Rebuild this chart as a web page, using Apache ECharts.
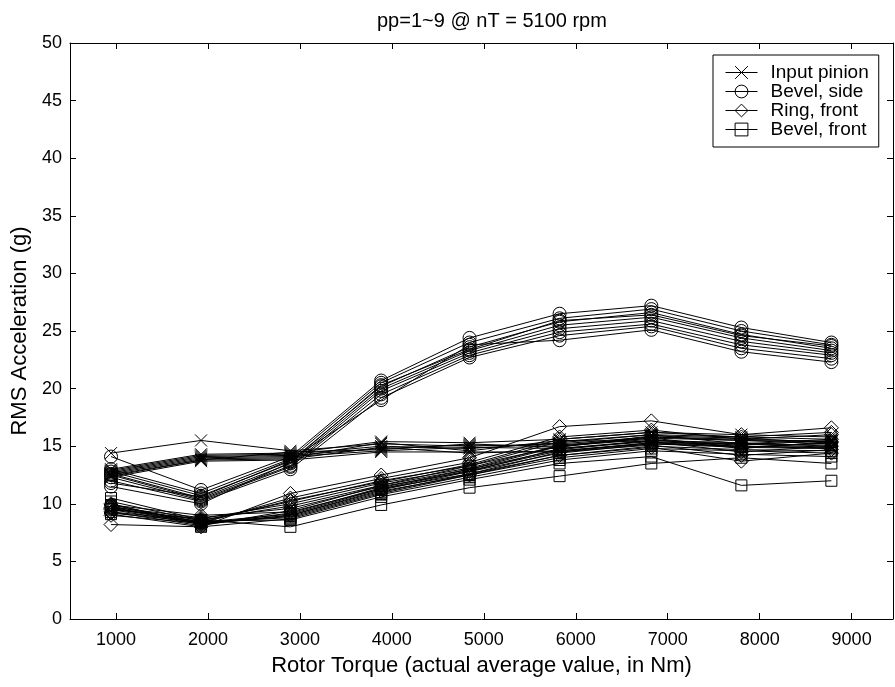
<!DOCTYPE html>
<html><head><meta charset="utf-8">
<script src="https://cdn.jsdelivr.net/npm/echarts@6/dist/echarts.min.js"></script>
<style>html,body{margin:0;padding:0;background:#fff}#c{width:895px;height:687px}</style>
</head><body><div id="c"></div>
<script>
// Rotor torque (x) at which each run was measured
const torque = [946, 1925, 2897, 3884, 4845, 5824, 6822, 7801, 8780];
const xTickValues = [1000, 2000, 3000, 4000, 5000, 6000, 7000, 8000, 9000];

// pp = 1..9, RMS acceleration (g)
const inputPinion = [
  [14.4, 15.5, 14.6, 15.2, 15.0, 15.2, 15.8, 15.6, 15.4],
  [13.0, 14.3, 14.4, 15.4, 15.3, 15.6, 16.2, 16.0, 15.8],
  [12.9, 14.2, 14.3, 15.0, 14.8, 15.3, 16.0, 15.8, 15.6],
  [12.8, 14.1, 14.2, 14.8, 15.1, 15.0, 15.7, 15.5, 15.2],
  [12.7, 14.0, 14.1, 14.6, 14.9, 14.8, 15.5, 15.3, 15.0],
  [12.6, 13.9, 14.0, 15.3, 14.6, 15.5, 15.4, 15.1, 15.5],
  [12.5, 13.8, 13.9, 14.9, 14.4, 14.6, 15.2, 15.0, 14.8],
  [12.4, 13.8, 14.5, 14.7, 15.2, 14.9, 15.9, 15.7, 15.3],
  [12.3, 13.7, 13.8, 14.5, 14.5, 14.5, 15.3, 15.2, 14.9]
];
const bevelSide = [
  [14.1, 11.2, 14.1, 20.7, 24.4, 26.5, 27.2, 25.3, 24.0],
  [13.0, 10.9, 13.9, 20.5, 24.0, 26.1, 26.9, 25.0, 23.8],
  [12.8, 10.7, 13.7, 20.2, 23.6, 25.8, 26.6, 24.7, 23.5],
  [12.6, 10.5, 13.5, 20.0, 23.3, 25.5, 26.2, 24.4, 23.3],
  [12.5, 10.4, 13.3, 19.8, 23.1, 25.2, 25.9, 24.1, 23.1],
  [12.3, 10.3, 13.2, 19.5, 22.9, 24.9, 25.6, 23.8, 22.9],
  [12.0, 10.2, 13.0, 19.2, 22.7, 24.6, 25.4, 23.5, 22.6],
  [11.8, 10.6, 13.8, 19.0, 23.8, 24.2, 25.1, 23.2, 22.3],
  [11.5, 10.0, 13.6, 20.3, 23.4, 25.9, 26.4, 24.6, 23.7]
];
const ringFront = [
  [8.2, 8.0, 10.9, 12.5, 14.0, 16.7, 17.2, 16.0, 16.6],
  [9.0, 8.3, 10.5, 12.2, 13.6, 15.8, 16.4, 15.6, 16.0],
  [9.3, 8.5, 10.2, 12.0, 13.3, 15.4, 16.0, 15.2, 15.6],
  [9.5, 8.7, 10.0, 11.8, 13.1, 15.1, 15.7, 14.9, 15.3],
  [9.7, 8.8, 9.6, 11.5, 12.8, 14.8, 15.4, 14.5, 15.0],
  [9.9, 9.0, 9.3, 11.3, 12.6, 14.5, 15.1, 14.2, 14.7],
  [9.2, 8.4, 10.3, 11.9, 13.4, 15.6, 16.2, 15.8, 16.2],
  [9.6, 8.6, 9.8, 11.6, 13.0, 15.0, 15.6, 14.8, 15.4],
  [10.0, 8.2, 9.0, 11.1, 12.5, 14.2, 14.9, 13.7, 14.4]
];
const bevelFront = [
  [10.5, 8.6, 8.0, 9.9, 11.4, 12.4, 13.5, 14.0, 13.5],
  [10.2, 8.5, 8.6, 10.6, 12.1, 13.5, 14.1, 11.6, 12.0],
  [9.9, 8.4, 8.8, 10.9, 12.5, 14.0, 14.8, 14.6, 14.4],
  [9.7, 8.3, 9.0, 11.2, 12.8, 14.4, 15.2, 14.9, 14.8],
  [9.5, 8.2, 9.2, 11.4, 13.0, 14.7, 15.5, 15.2, 15.1],
  [9.3, 8.1, 9.4, 11.6, 13.3, 15.0, 15.8, 15.5, 15.4],
  [9.6, 8.3, 8.9, 11.0, 12.6, 14.2, 15.0, 14.7, 14.6],
  [9.1, 8.0, 8.7, 10.8, 12.3, 13.8, 14.6, 14.3, 14.1],
  [9.8, 8.4, 9.1, 11.3, 12.9, 14.6, 15.3, 15.0, 14.9]
];

const groupNames = ['Input pinion', 'Bevel, side', 'Ring, front', 'Bevel, front'];
const groupData = [inputPinion, bevelSide, ringFront, bevelFront];
const groupSymbols = ['path://M0,0L10,10M10,0L0,10', 'circle', 'diamond', 'rect'];
const groupSizes = [12, 13, 14, 11];

const FONT = 'Liberation Sans';
const series = [];
groupData.forEach((runs, g) => {
  runs.forEach(vals => {
    series.push({
      type: 'line',
      name: groupNames[g],
      data: torque.map((x, i) => [x, vals[i]]),
      symbol: groupSymbols[g],
      symbolSize: groupSizes[g],
      symbolKeepAspect: true,
      showAllSymbol: true,
      lineStyle: { color: '#000', width: 1 },
      itemStyle: { color: 'rgba(0,0,0,0)', borderColor: '#000', borderWidth: 1 },
      emphasis: { disabled: true },
      animation: false,
      xAxisIndex: 0, yAxisIndex: 0
    });
  });
});

const axisLine = { show: true, onZero: false, lineStyle: { color: '#000', width: 1 } };
const chart = echarts.init(document.getElementById('c'), null, { renderer: 'canvas' });
chart.setOption({
  backgroundColor: '#fff',
  animation: false,
  textStyle: { fontFamily: FONT },
  title: {
    text: 'pp=1~9 @ nT = 5100 rpm',
    left: 372, top: 6,
    textStyle: { fontFamily: FONT, fontSize: 20, fontWeight: 'normal', color: '#000' }
  },
  legend: {
    data: groupNames,
    orient: 'vertical',
    left: 713, top: 55,
    padding: [8, 10, 8, 12],
    itemGap: 0,
    itemWidth: 32, itemHeight: 16,
    borderColor: '#000', borderWidth: 1,
    backgroundColor: '#fff',
    selectedMode: false,
    lineStyle: { width: 1, color: '#000' },
    itemStyle: { color: 'rgba(0,0,0,0)', borderColor: '#000', borderWidth: 1 },
    textStyle: { fontFamily: FONT, fontSize: 19, color: '#000', padding: [0, 0, 0, 8] }
  },
  grid: { left: 70, right: 2, top: 43, bottom: 68, containLabel: false },
  xAxis: [{
    type: 'value', min: 500, max: 9450, position: 'bottom',
    axisLine,
    axisTick: { show: true, inside: true, length: 6, customValues: xTickValues, lineStyle: { color: '#000' } },
    axisLabel: { customValues: xTickValues, formatter: v => String(v), fontFamily: FONT, fontSize: 18, color: '#000', margin: 12 },
    splitLine: { show: false },
    name: 'Rotor Torque (actual average value, in Nm)',
    nameLocation: 'middle', nameGap: 36,
    nameTextStyle: { fontFamily: FONT, fontSize: 22, color: '#000' }
  }, {
    type: 'value', min: 500, max: 9450, position: 'top',
    axisLine,
    axisTick: { show: true, inside: true, length: 6, customValues: xTickValues, lineStyle: { color: '#000' } },
    axisLabel: { show: false },
    splitLine: { show: false }
  }],
  yAxis: [{
    type: 'value', min: 0, max: 50, interval: 5, position: 'left',
    axisLine,
    axisTick: { show: true, inside: true, length: 6, lineStyle: { color: '#000' } },
    axisLabel: { fontFamily: FONT, fontSize: 18, color: '#000', margin: 8 },
    splitLine: { show: false },
    name: 'RMS Acceleration (g)',
    nameLocation: 'middle', nameGap: 38, nameRotate: 90,
    nameTextStyle: { fontFamily: FONT, fontSize: 22, color: '#000' }
  }, {
    type: 'value', min: 0, max: 50, interval: 5, position: 'right',
    axisLine,
    axisTick: { show: true, inside: true, length: 6, lineStyle: { color: '#000' } },
    axisLabel: { show: false },
    splitLine: { show: false }
  }],
  series
});
</script></body></html>
